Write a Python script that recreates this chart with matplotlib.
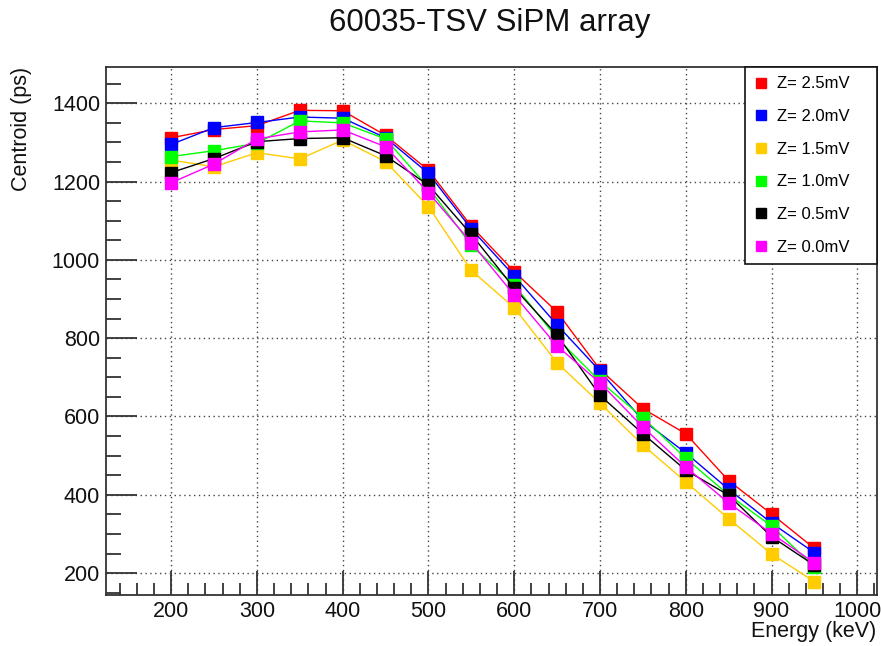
import matplotlib
matplotlib.use("Agg")
import matplotlib.pyplot as plt
from matplotlib.ticker import MultipleLocator

plt.rcParams['font.family'] = ['Liberation Sans', 'DejaVu Sans']

# Beam energy points (keV)
energy = [200, 250, 300, 350, 400, 450, 500, 550, 600, 650, 700, 750, 800, 850, 900, 950]

# Centroid (ps) for each threshold setting
z_2p5 = [1312, 1333, 1343, 1382, 1381, 1318, 1229, 1086, 970, 867, 720, 620, 556, 436, 351, 263]
z_2p0 = [1295, 1338, 1351, 1365, 1362, 1312, 1221, 1079, 959, 834, 716, 590, 507, 414, 328, 252]
z_1p5 = [1255, 1238, 1274, 1258, 1306, 1251, 1136, 973, 878, 737, 634, 527, 433, 339, 249, 178]
z_1p0 = [1264, 1279, 1298, 1355, 1350, 1309, 1185, 1037, 936, 800, 690, 597, 493, 400, 320, 216]
z_0p5 = [1223, 1259, 1302, 1310, 1312, 1266, 1191, 1065, 928, 808, 654, 556, 463, 399, 293, 220]
z_0p0 = [1197, 1245, 1309, 1327, 1332, 1289, 1172, 1044, 910, 780, 686, 573, 471, 379, 301, 226]

labels = ["Z= 2.5mV", "Z= 2.0mV", "Z= 1.5mV", "Z= 1.0mV", "Z= 0.5mV", "Z= 0.0mV"]
series = [z_2p5, z_2p0, z_1p5, z_1p0, z_0p5, z_0p0]
colors = ["#ff0000", "#0000ff", "#ffcc00", "#00ff00", "#000000", "#ff00ff"]

W, H = 881, 646
fig = plt.figure(figsize=(W / 100, H / 100), dpi=100)
fig.patch.set_facecolor("white")

left, right, top, bottom = 106, 877, 67.3, 595
ax = fig.add_axes([left / W, 1 - bottom / H, (right - left) / W, (bottom - top) / H])

handles = []
for ys, lab, c in zip(series, labels, colors):
    h, = ax.plot(energy, ys, '-', color=c, lw=1.0, marker='s', ms=8,
                 mec=c, mfc=c, label=lab)
    handles.append(h)

ax.set_xlim(124, 1023)
ax.set_ylim(144, 1492)

ax.xaxis.set_major_locator(MultipleLocator(100))
ax.xaxis.set_minor_locator(MultipleLocator(20))
ax.yaxis.set_major_locator(MultipleLocator(200))
ax.yaxis.set_minor_locator(MultipleLocator(50))

frame_col = "#333333"
for s in ax.spines.values():
    s.set_color(frame_col)
    s.set_linewidth(1.3)

ax.tick_params(axis='both', which='both', direction='in', color=frame_col,
               top=False, right=False, labelsize=15.5, labelcolor='#111111')
ax.tick_params(axis='y', which='major', length=22, width=1.3, pad=4.3)
ax.tick_params(axis='y', which='minor', length=11, width=1.3)
ax.tick_params(axis='x', which='major', length=17, width=1.3, pad=4)
ax.tick_params(axis='x', which='minor', length=9, width=1.3)

ax.grid(True, which='major', linestyle=(0, (1, 2.5)), color='#444444', linewidth=1.0)
ax.set_axisbelow(True)

# Titles
fig.text(490 / W, 1 - 23 / H, "60035-TSV SiPM array", ha='center', va='center',
         fontsize=22.5, color='#111111')
fig.text(22 / W, 1 - 67 / H, "Centroid (ps)", rotation=90, ha='center', va='top',
         fontsize=15.5, color='#111111')
fig.text(876 / W, 1 - 637.5 / H, "Energy (keV)", ha='right', va='baseline',
         fontsize=15.5, color='#111111')

# Legend box in the upper right corner
lx0, ly0, lx1, ly1 = 745, 67.3, 877, 260
leg = ax.legend(handles=handles, labels=labels,
                bbox_to_anchor=(lx0 / W, 1 - ly1 / H, (lx1 - lx0) / W, (ly1 - ly0) / H),
                bbox_transform=fig.transFigure, loc='upper left', mode='expand',
                fontsize=12, frameon=True, fancybox=False, framealpha=1,
                edgecolor='#111111', handlelength=0.8, handletextpad=0.57,
                labelspacing=1.06, borderpad=0.55, borderaxespad=0.0,
                markerscale=0.85)
leg.get_frame().set_linewidth(1.2)
for lh in leg.legend_handles:
    lh.set_linestyle('none')

fig.savefig("out.png", dpi=100)
